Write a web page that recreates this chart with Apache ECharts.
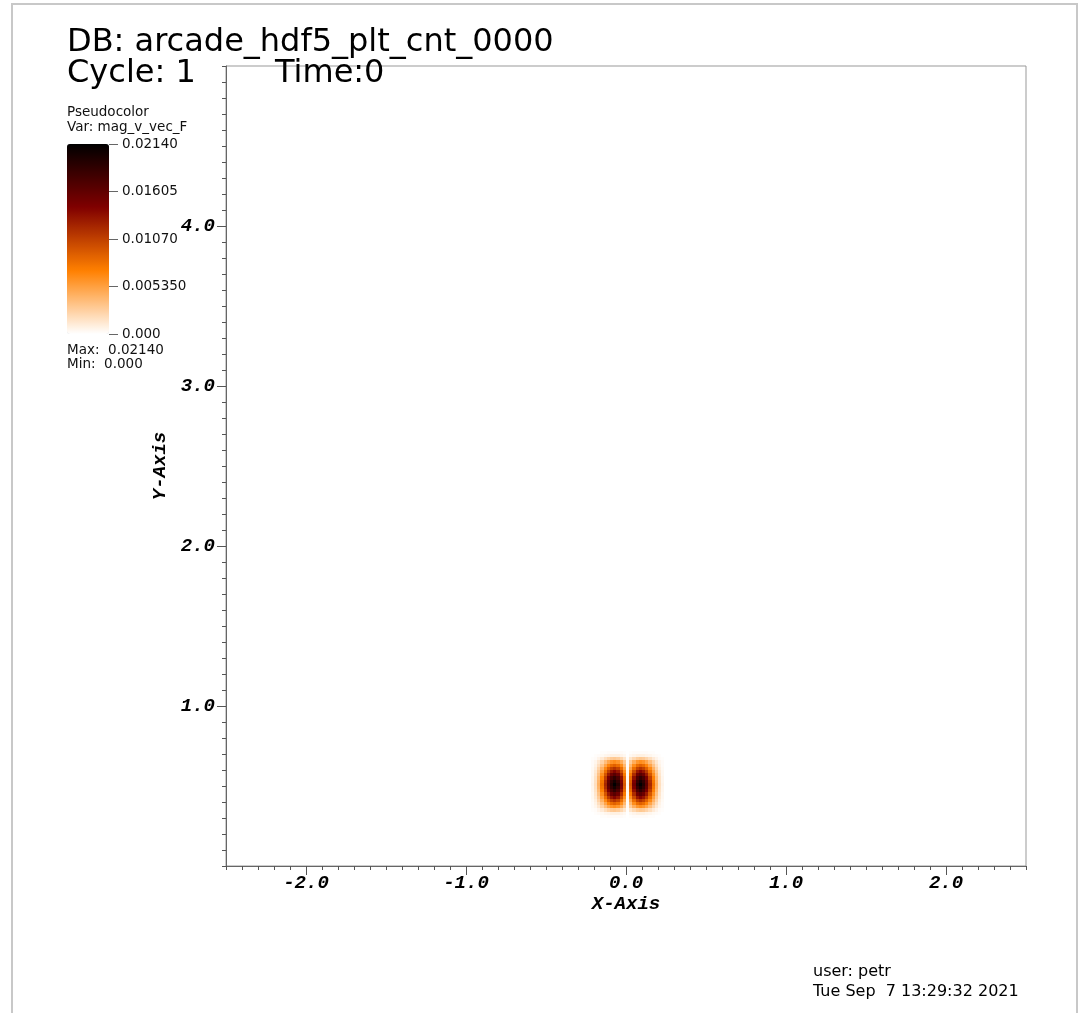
<!DOCTYPE html>
<html><head><meta charset="utf-8">
<script src="https://cdn.jsdelivr.net/npm/echarts@6/dist/echarts.min.js"></script>
<style>html,body{margin:0;padding:0;background:#fff;} #c{width:1085px;height:1013px;}</style>
</head><body><div id="c"></div>
<script>
// ---------- data ----------
const titleLines = ['DB: arcade_hdf5_plt_cnt_0000', 'Cycle: 1', 'Time:0'];
const legendLines = ['Pseudocolor', 'Var: mag_v_vec_F'];
const maxMinLines = ['Max:  0.02140', 'Min:  0.000'];
const footerLines = ['user: petr', 'Tue Sep  7 13:29:32 2021'];
const xTickValues = [-2, -1, 0, 1, 2];
const yTickValues = [1, 2, 3, 4];
const colorbarTicks = [0, 0.00535, 0.0107, 0.01605, 0.0214];
const colorbarLabels = ['0.000', '0.005350', '0.01070', '0.01605', '0.02140'];
const valueMin = 0, valueMax = 0.0214;
const cellSize = 0.02;          // data cell size (x and y)
const valueUnit = 1e-4;         // heatValues are stored in units of 1e-4
const heatX = [-0.21,-0.19,-0.17,-0.15,-0.13,-0.11,-0.09,-0.07,-0.05,-0.03,-0.01,0.01,0.03,0.05,0.07,0.09,0.11,0.13,0.15,0.17,0.19,0.21,0.23];
const heatY = [0.31,0.33,0.35,0.37,0.39,0.41,0.43,0.45,0.47,0.49,0.51,0.53,0.55,0.57,0.59,0.61,0.63,0.65,0.67,0.69,0.71];
const heatValues = [
 [0,0,0,1,1,2,2,2,2,2,1,0,1,2,2,2,2,2,1,1,0,0,0],
 [0,1,2,3,5,6,8,8,8,6,4,0,4,6,8,8,8,6,5,3,2,1,0],
 [1,2,6,11,18,24,29,31,28,22,14,1,14,22,28,31,29,24,18,11,6,2,1],
 [2,5,13,24,37,50,60,64,59,46,29,2,29,46,59,64,60,50,37,24,13,5,2],
 [2,7,18,33,51,69,83,89,82,64,40,2,40,64,82,89,83,69,51,33,18,7,2],
 [3,9,24,43,66,89,106,114,105,82,51,3,51,82,105,114,106,89,66,43,24,9,3],
 [4,12,29,53,81,110,131,141,130,101,63,4,63,101,130,141,131,110,81,53,29,12,4],
 [4,14,34,62,95,128,153,165,152,118,74,4,74,118,152,165,153,128,95,62,34,14,4],
 [5,16,39,70,108,146,174,187,172,134,84,5,84,134,172,187,174,146,108,70,39,16,5],
 [5,17,42,76,117,158,188,203,186,145,90,5,90,145,186,203,188,158,117,76,42,17,5],
 [6,18,44,79,121,163,194,214,195,151,94,6,94,151,195,214,194,163,121,79,44,18,6],
 [5,17,42,76,117,158,188,203,186,145,90,5,90,145,186,203,188,158,117,76,42,17,5],
 [5,16,39,70,108,146,174,187,172,134,84,5,84,134,172,187,174,146,108,70,39,16,5],
 [4,14,34,62,95,128,153,165,152,118,74,4,74,118,152,165,153,128,95,62,34,14,4],
 [4,12,29,53,81,110,131,141,130,101,63,4,63,101,130,141,131,110,81,53,29,12,4],
 [3,9,24,43,66,89,106,114,105,82,51,3,51,82,105,114,106,89,66,43,24,9,3],
 [2,7,18,33,51,69,83,89,82,64,40,2,40,64,82,89,83,69,51,33,18,7,2],
 [2,5,13,24,37,50,60,64,59,46,29,2,29,46,59,64,60,50,37,24,13,5,2],
 [1,2,6,11,18,24,29,31,28,22,14,1,14,22,28,31,29,24,18,11,6,2,1],
 [0,1,2,3,5,6,8,8,8,6,4,0,4,6,8,8,8,6,5,3,2,1,0],
 [0,0,0,1,1,2,2,2,2,2,1,0,1,2,2,2,2,2,1,1,0,0,0]
];

// ---------- build ----------
const cells = [];
heatY.forEach((y, r) => heatX.forEach((x, c) => cells.push([x, y, heatValues[r][c] * valueUnit])));

const axisFont = { fontFamily: 'Liberation Mono', fontWeight: 'bold', fontStyle: 'italic', fontSize: 19, color: '#000' };
const sansFont = 'DejaVu Sans';
const tickColor = '#555';

const chart = echarts.init(document.getElementById('c'), null, { renderer: 'canvas' });
chart.setOption({
  animation: false,
  backgroundColor: '#fff',
  grid: [
    { left: 226, top: 66, width: 800, height: 800, show: true, borderColor: '#999', borderWidth: 1, containLabel: false },
    { left: 67, top: 144, width: 42, height: 190, show: false }
  ],
  xAxis: [
    { type: 'value', gridIndex: 0, min: -2.5, max: 2.5, interval: 0.1, position: 'bottom',
      axisLine: { show: true, onZero: false, lineStyle: { color: '#666', width: 1 } },
      axisTick: { show: true, length: 4, lineStyle: { color: tickColor } },
      axisLabel: { show: false }, splitLine: { show: false },
      name: 'X-Axis', nameLocation: 'middle', nameGap: 29, nameTextStyle: axisFont },
    { type: 'value', gridIndex: 0, min: -2.5, max: 2.5, position: 'bottom',
      axisLine: { show: false, onZero: false },
      axisTick: { show: true, length: 9, customValues: xTickValues, lineStyle: { color: tickColor } },
      axisLabel: Object.assign({ show: true, margin: 8, customValues: xTickValues, formatter: v => v.toFixed(1) }, axisFont),
      splitLine: { show: false } },
    { type: 'value', gridIndex: 1, show: false, min: 0, max: 1 }
  ],
  yAxis: [
    { type: 'value', gridIndex: 0, min: 0, max: 5, interval: 0.1, position: 'left',
      axisLine: { show: true, onZero: false, lineStyle: { color: '#666', width: 1 } },
      axisTick: { show: true, length: 4, lineStyle: { color: tickColor } },
      axisLabel: { show: false }, splitLine: { show: false },
      name: 'Y-Axis', nameLocation: 'middle', nameRotate: 90, nameGap: 56, nameTextStyle: axisFont },
    { type: 'value', gridIndex: 0, min: 0, max: 5, position: 'left',
      axisLine: { show: false, onZero: false },
      axisTick: { show: true, length: 9, customValues: yTickValues, lineStyle: { color: tickColor } },
      axisLabel: Object.assign({ show: true, margin: 11, customValues: yTickValues, formatter: v => v.toFixed(1) }, axisFont),
      splitLine: { show: false } },
    { type: 'value', gridIndex: 1, min: valueMin, max: valueMax, position: 'right',
      axisLine: { show: false, onZero: false },
      axisTick: { show: true, length: 9, customValues: colorbarTicks, lineStyle: { color: '#666' } },
      axisLabel: { show: true, margin: 13, customValues: colorbarTicks, fontFamily: sansFont, fontSize: 13.5, color: '#111',
        formatter: v => { let best = 0; colorbarTicks.forEach((t, i) => { if (Math.abs(t - v) < Math.abs(colorbarTicks[best] - v)) best = i; }); return colorbarLabels[best]; } },
      splitLine: { show: false } }
  ],
  visualMap: {
    type: 'continuous', min: valueMin, max: valueMax, dimension: 2, seriesIndex: 0,
    left: 67, top: 144, itemWidth: 42, itemHeight: 190, padding: 0,
    calculable: false, showLabel: false, hoverLink: false,
    inRange: { color: ['#ffffff', '#ff8000', '#800000', '#000000'] }
  },
  series: [{
    type: 'custom', xAxisIndex: 0, yAxisIndex: 0, data: cells, encode: { x: 0, y: 1 },
    renderItem: (params, api) => {
      const x = api.value(0), y = api.value(1);
      const p1 = api.coord([x - cellSize / 2, y + cellSize / 2]);
      const p2 = api.coord([x + cellSize / 2, y - cellSize / 2]);
      const x0 = Math.round(p1[0]), y0 = Math.round(p1[1]);
      return { type: 'rect', shape: { x: x0, y: y0, width: Math.round(p2[0]) - x0, height: Math.round(p2[1]) - y0 },
        style: { fill: api.visual('color') } };
    }
  }],
  graphic: [
    { type: 'rect', shape: { x: 12, y: 4, width: 1065, height: 1030 }, style: { fill: 'none', stroke: '#c8c8c8', lineWidth: 2 }, silent: true },
    { type: 'text', x: 67, y: 43, style: { text: titleLines[0], fontFamily: sansFont, fontSize: 32, fill: '#000', verticalAlign: 'middle' } },
    { type: 'text', x: 67, y: 74, style: { text: titleLines[1], fontFamily: sansFont, fontSize: 32, fill: '#000', verticalAlign: 'middle' } },
    { type: 'text', x: 275, y: 74, style: { text: titleLines[2], fontFamily: sansFont, fontSize: 32, fill: '#000', verticalAlign: 'middle' } },
    { type: 'text', x: 67, y: 112, style: { text: legendLines[0], fontFamily: sansFont, fontSize: 13.5, fill: '#111', verticalAlign: 'middle' } },
    { type: 'text', x: 67, y: 127, style: { text: legendLines[1], fontFamily: sansFont, fontSize: 13.5, fill: '#111', verticalAlign: 'middle' } },
    { type: 'text', x: 67, y: 350, style: { text: maxMinLines[0], fontFamily: sansFont, fontSize: 13.5, fill: '#111', verticalAlign: 'middle' } },
    { type: 'text', x: 67, y: 364, style: { text: maxMinLines[1], fontFamily: sansFont, fontSize: 13.5, fill: '#111', verticalAlign: 'middle' } },
    { type: 'text', x: 813, y: 972, style: { text: footerLines[0], fontFamily: sansFont, fontSize: 16, fill: '#000', verticalAlign: 'middle' } },
    { type: 'text', x: 813, y: 992, style: { text: footerLines[1], fontFamily: sansFont, fontSize: 16, fill: '#000', verticalAlign: 'middle' } }
  ]
});
</script></body></html>
